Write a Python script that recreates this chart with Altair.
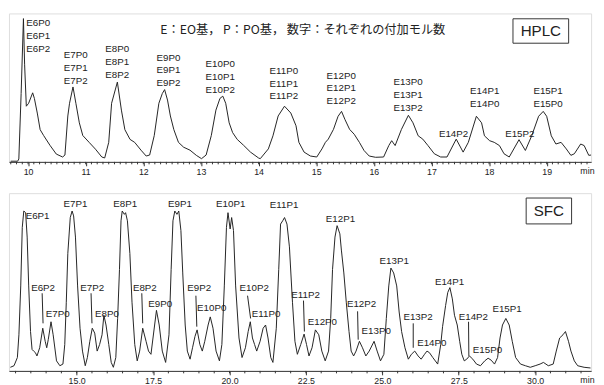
import altair as alt
import pandas as pd

# ---------------- HPLC trace (time [min], signal) ----------------
hplc_points = [
    (9.70, 0.7), (9.82, 0.7), (9.84, 3), (9.88, 70), (9.92, 146.7), (9.94, 100), (9.97, 57),
    (10.01, 60), (10.08, 70.7), (10.11, 65), (10.16, 50), (10.21, 33), (10.27, 27), (10.38, 17),
    (10.49, 8), (10.60, 5), (10.64, 7), (10.69, 47), (10.72, 60), (10.78, 76.7), (10.83, 60),
    (10.89, 40), (10.95, 27), (11.06, 20), (11.17, 13), (11.28, 5), (11.33, 4), (11.40, 20),
    (11.45, 60), (11.55, 81.7), (11.62, 53), (11.68, 33), (11.77, 23), (11.85, 20), (11.96, 12),
    (12.05, 6), (12.11, 7), (12.19, 27), (12.27, 60), (12.33, 70), (12.37, 74), (12.42, 63.3),
    (12.47, 47), (12.53, 33), (12.61, 20), (12.70, 15), (12.81, 12), (12.92, 6.7), (13.01, 3.3),
    (13.09, 7), (13.18, 27), (13.26, 53), (13.33, 65), (13.38, 67.3), (13.43, 60), (13.49, 40),
    (13.55, 30), (13.63, 23), (13.74, 17), (13.86, 10), (14.00, 4), (14.03, 3.3), (14.17, 13.3),
    (14.25, 26.7), (14.34, 47), (14.45, 57), (14.56, 50), (14.65, 37), (14.70, 20), (14.79, 10),
    (14.90, 6), (15.01, 5), (15.10, 13.3), (15.16, 20), (15.21, 23.3), (15.30, 33.3), (15.38, 46.7),
    (15.44, 51.7), (15.50, 43.3), (15.58, 33.3), (15.66, 28.3), (15.75, 20), (15.83, 11.7),
    (15.92, 6), (16.03, 4.7), (16.17, 5), (16.26, 16.7), (16.31, 21.7), (16.37, 16.7), (16.48, 33.3),
    (16.60, 47.7), (16.68, 40), (16.77, 26.7), (16.85, 23.3), (16.94, 16.7), (17.05, 8.3),
    (17.16, 5), (17.27, 5), (17.43, 23.3), (17.55, 10), (17.64, 20), (17.78, 46.7), (17.87, 40),
    (17.92, 26.7), (18.01, 21.7), (18.09, 20), (18.18, 16.7), (18.26, 8.3), (18.35, 5),
    (18.52, 22.7), (18.63, 11.7), (18.74, 26.7), (18.86, 46.7), (18.94, 51.7), (19.00, 46.7),
    (19.08, 26.7), (19.16, 18.3), (19.25, 20), (19.34, 13.3), (19.42, 6.7), (19.48, 8.3),
    (19.59, 18.3), (19.65, 16.7), (19.73, 6.7), (19.77, 7),
]

# ---------------- SFC trace (time [min], signal) ----------------
sfc_points = [
    (12.83, 3.7), (12.95, 5.3), (13.06, 13.7), (13.11, 37), (13.17, 87), (13.22, 147), (13.27, 163.7),
    (13.33, 162), (13.38, 137), (13.43, 87), (13.49, 40.3), (13.54, 22), (13.59, 20.3), (13.65, 18.7),
    (13.70, 15.3), (13.79, 23.7), (13.89, 43.7), (13.97, 30.3), (14.02, 23.7), (14.07, 32),
    (14.16, 50.3), (14.23, 37), (14.34, 10.3), (14.45, 5.3), (14.55, 7), (14.61, 27), (14.66, 70.3),
    (14.71, 120.3), (14.79, 157), (14.85, 163.7), (14.90, 158.7), (14.96, 137), (15.03, 87),
    (15.11, 43.7), (15.19, 20.3), (15.28, 5.3), (15.35, 13.7), (15.43, 30.3), (15.51, 43.7),
    (15.59, 38.7), (15.67, 20.3), (15.75, 27), (15.83, 37), (15.89, 57), (15.96, 47), (16.05, 27),
    (16.13, 8.7), (16.20, 3.7), (16.28, 13.7), (16.34, 53.7), (16.40, 103.7), (16.45, 153.7),
    (16.49, 163.7), (16.56, 160.3), (16.60, 162), (16.66, 153.7), (16.74, 120.3), (16.81, 70.3),
    (16.90, 27), (16.98, 10.3), (17.06, 20.3), (17.16, 43.7), (17.27, 30.3), (17.35, 20.3),
    (17.43, 17), (17.61, 62), (17.70, 47), (17.80, 20.3), (17.91, 8.7), (18.02, 37), (18.09, 103.7),
    (18.15, 153.7), (18.21, 163.7), (18.28, 160.3), (18.34, 163.7), (18.41, 143.7), (18.47, 100.3),
    (18.55, 47), (18.62, 20.3), (18.71, 12), (18.79, 23.7), (18.87, 35.3), (18.94, 42), (19.03, 27),
    (19.11, 20.3), (19.19, 30.3), (19.30, 47), (19.37, 55.3), (19.46, 43.7), (19.56, 20.3),
    (19.67, 10.3), (19.75, 27), (19.83, 87), (19.90, 147), (19.95, 162), (20.02, 145.3),
    (20.07, 157), (20.13, 143.7), (20.20, 87), (20.31, 33.7), (20.41, 13.7), (20.52, 23.7),
    (20.61, 40.3), (20.68, 50.3), (20.75, 33.7), (20.82, 27), (20.89, 20.3), (21.00, 30.3),
    (21.10, 43.7), (21.18, 47), (21.26, 33.7), (21.35, 13.7), (21.42, 8.7), (21.53, 43.7),
    (21.61, 103.7), (21.67, 150.3), (21.74, 153.7), (21.80, 157), (21.88, 150.3), (21.96, 127),
    (22.06, 70.3), (22.14, 30.3), (22.22, 17), (22.33, 27), (22.44, 37.7), (22.52, 27), (22.60, 15.3),
    (22.70, 23.7), (22.81, 42), (22.92, 37), (23.02, 20.3), (23.13, 10.3), (23.24, 20.3),
    (23.31, 53.7), (23.37, 103.7), (23.45, 137), (23.52, 148.7), (23.61, 140.3), (23.66, 123.7),
    (23.74, 100.3), (23.82, 70.3), (23.91, 40.3), (23.98, 20.3), (24.06, 15.3), (24.14, 20.3),
    (24.25, 30.3), (24.35, 23.7), (24.46, 15.3), (24.57, 20.3), (24.73, 30.3), (24.83, 20.3),
    (24.94, 10.3), (25.05, 17), (25.13, 53.7), (25.21, 87), (25.28, 105.3), (25.37, 100.3),
    (25.47, 87), (25.55, 60.3), (25.63, 40.3), (25.74, 23.7), (25.85, 12), (25.95, 17), (26.06, 20.3),
    (26.17, 15.3), (26.27, 12), (26.38, 17), (26.46, 20.3), (26.54, 18.7), (26.65, 13.7), (26.81, 7),
    (26.91, 27), (26.97, 45.3), (27.07, 67), (27.14, 80.3), (27.21, 85.3), (27.29, 73.7), (27.36, 57),
    (27.45, 47), (27.53, 30.3), (27.60, 17), (27.68, 10.3), (27.76, 12), (27.85, 15.3), (27.96, 12),
    (28.08, 7), (28.21, 5.3), (28.35, 10.3), (28.46, 13), (28.56, 11), (28.67, 7), (28.77, 13.7),
    (28.85, 33.7), (28.93, 47), (29.04, 53.7), (29.15, 47), (29.25, 30.3), (29.36, 13.7), (29.52, 7),
    (29.68, 5.3), (29.84, 3.7), (30.00, 5.3), (30.16, 7), (30.27, 8.7), (30.43, 5.3), (30.59, 7),
    (30.69, 20.3), (30.80, 33.7), (30.91, 37), (30.99, 40.3), (31.09, 30.3), (31.17, 20.3),
    (31.28, 10.3), (31.39, 5.3), (31.60, 3.7), (31.81, 3),
]

# ---------------- peak labels (time, height, text) ----------------
hplc_labels = [
    (9.97, 141.7, "E6P0"), (9.97, 128.5, "E6P1"), (9.97, 115.3, "E6P2"),
    (10.62, 109.3, "E7P0"), (10.62, 96.1, "E7P1"), (10.62, 82.9, "E7P2"),
    (11.34, 115.0, "E8P0"), (11.34, 101.8, "E8P1"), (11.34, 88.6, "E8P2"),
    (12.23, 106.7, "E9P0"), (12.23, 93.5, "E9P1"), (12.23, 80.3, "E9P2"),
    (13.08, 100.0, "E10P0"), (13.08, 86.8, "E10P1"), (13.08, 73.6, "E10P2"),
    (14.19, 93.3, "E11P0"), (14.19, 80.1, "E11P1"), (14.19, 66.9, "E11P2"),
    (15.18, 88.3, "E12P0"), (15.18, 75.1, "E12P1"), (15.18, 61.9, "E12P2"),
    (16.34, 81.7, "E13P0"), (16.34, 68.5, "E13P1"), (16.34, 55.3, "E13P2"),
    (17.67, 72.7, "E14P1"), (17.67, 59.5, "E14P0"),
    (18.77, 72.7, "E15P1"), (18.77, 59.5, "E15P0"),
    (17.13, 28.3, "E14P2"), (18.28, 28.3, "E15P2"),
]

sfc_labels = [
    (13.33, 158.7, "E6P1"), (14.57, 171.0, "E7P1"), (16.20, 171.0, "E8P1"),
    (17.99, 170.3, "E9P1"), (19.56, 170.3, "E10P1"), (21.32, 169.7, "E11P1"),
    (23.15, 155.3, "E12P1"), (24.91, 112.0, "E13P1"), (26.72, 91.3, "E14P1"),
    (28.60, 63.7, "E15P1"),
    (13.51, 85.3, "E6P2"), (13.99, 58.7, "E7P0"), (15.12, 85.3, "E7P2"),
    (15.60, 58.7, "E8P0"), (16.84, 85.3, "E8P2"), (17.34, 68.3, "E9P0"),
    (18.62, 85.3, "E9P2"), (18.94, 64.3, "E10P0"), (20.33, 85.3, "E10P2"),
    (20.73, 57.7, "E11P0"), (22.02, 77.5, "E11P2"), (22.56, 50.3, "E12P0"),
    (23.84, 68.7, "E12P2"), (24.32, 40.3, "E13P0"), (25.69, 55.3, "E13P2"),
    (26.14, 28.7, "E14P0"), (27.50, 55.3, "E14P2"), (27.96, 21.3, "E15P0"),
]

# leader lines (t1, h1, t2, h2)
sfc_leaders = [
    (13.87, 79.5, 13.90, 48.7), (15.47, 79.5, 15.50, 48.7), (17.13, 79.5, 17.16, 48.7),
    (18.90, 77.0, 18.93, 45.3), (20.59, 77.0, 20.69, 53.7), (22.42, 72.0, 22.45, 40.3),
    (24.19, 61.0, 24.21, 32.0), (26.01, 48.7, 26.01, 23.7), (27.82, 50.3, 27.83, 15.3),
]

# axis ticks
hplc_major = [10, 11, 12, 13, 14, 15, 16, 17, 18, 19]
hplc_minor = [round(9.7 + 0.1 * i, 1) for i in range(101)]
sfc_major = [15.0, 17.5, 20.0, 22.5, 25.0, 27.5, 30.0]
sfc_minor = [13.0 + 0.5 * i for i in range(38)]

caption = "E：EO基，  P：PO基，  数字：それぞれの付加モル数"

FONT = "Liberation Sans"
INK = "#222222"
W = 596
H_TOP = 152
H_BOT = 182


def panel(points, labels, leaders, domain_x, ymax, height, major, minor, fmt, box, box_text):
    df = pd.DataFrame(points, columns=["t", "h"])
    lab = pd.DataFrame(labels, columns=["t", "h", "txt"])
    xscale = alt.Scale(domain=domain_x, nice=False, zero=False)
    yscale = alt.Scale(domain=[0, ymax], nice=False, zero=False)
    axis = alt.Axis(
        values=major, format=fmt, title=None, grid=False, tickSize=4,
        tickColor="#333333", domainColor="#333333", labelColor=INK, labelFont=FONT,
        labelFontSize=9, labelPadding=1.5, labelOverlap=False, labelFlush=False,
        labelBound=False,
    )
    line = alt.Chart(df).mark_line(color=INK, strokeWidth=1, clip=True).encode(
        x=alt.X("t:Q", scale=xscale, axis=axis),
        y=alt.Y("h:Q", scale=yscale, axis=None),
    )
    mt = pd.DataFrame({"t": minor})
    minor_ticks = alt.Chart(mt).mark_rule(color="#333333", strokeWidth=1).encode(
        x="t:Q", y=alt.value(height), y2=alt.value(height + 2.5))
    text = alt.Chart(lab).mark_text(
        align="left", baseline="middle", font=FONT, fontSize=10, color=INK
    ).encode(x="t:Q", y="h:Q", text="txt:N")
    layers = [line, minor_ticks, text]
    if leaders:
        ld = pd.DataFrame(leaders, columns=["t1", "h1", "t2", "h2"])
        layers.append(alt.Chart(ld).mark_rule(color=INK, strokeWidth=1).encode(
            x="t1:Q", y="h1:Q", x2="t2:Q", y2="h2:Q"))
    one = pd.DataFrame({"k": [0]})
    bx0, bx1, by0, by1 = box
    layers.append(alt.Chart(one).mark_rect(fill="white", stroke="#333333", strokeWidth=1).encode(
        x=alt.value(bx0), x2=alt.value(bx1), y=alt.value(by0), y2=alt.value(by1)))
    layers.append(alt.Chart(one).mark_text(font=FONT, fontSize=15.5, color=INK,
                                           align="center", baseline="middle").encode(
        x=alt.value((bx0 + bx1) / 2), y=alt.value((by0 + by1) / 2 + 0.5),
        text=alt.value(box_text)))
    layers.append(alt.Chart(one).mark_text(font=FONT, fontSize=9, color=INK,
                                           align="left", baseline="middle").encode(
        x=alt.value(585), y=alt.value(height + 9.5), text=alt.value("min")))
    return layers


top_layers = panel(
    hplc_points, hplc_labels, None, [9.669, 19.771], H_TOP, H_TOP, hplc_major, hplc_minor,
    "d", (516, 573, 5.5, 30.5), "HPLC",
)
cap = alt.Chart(pd.DataFrame({"k": [0]})).mark_text(
    font="Noto Sans CJK JP", fontSize=12.5, color=INK, align="left", baseline="middle"
).encode(x=alt.value(155), y=alt.value(17), text=alt.value(caption))
top = alt.layer(*top_layers, cap).properties(width=W, height=H_TOP)

bottom_layers = panel(
    sfc_points, sfc_labels, sfc_leaders, [12.785, 31.83], H_BOT, H_BOT, sfc_major, sfc_minor,
    ".1f", (529.5, 576, 5, 31.5), "SFC",
)
bottom = alt.layer(*bottom_layers).properties(width=W, height=H_BOT)

chart = alt.vconcat(top, bottom, spacing=16).properties(padding=0).configure_view(
    stroke=None
).configure(background="white")

chart.save("out.html", embed_options={"renderer": "svg", "actions": False})
